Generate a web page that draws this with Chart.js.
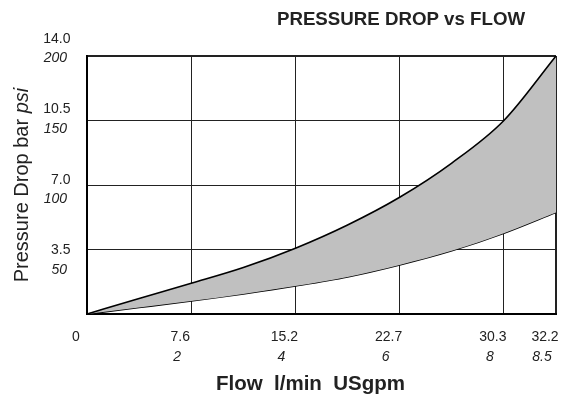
<!DOCTYPE html>
<html>
<head>
<meta charset="utf-8">
<script src="https://cdn.jsdelivr.net/npm/chart.js@4.4.1/dist/chart.umd.min.js"></script>
<style>
html, body { margin: 0; padding: 0; background: #fff; }
</style>
</head>
<body>
<canvas id="pdChart" width="576" height="400"></canvas>
<script>
// flow in US gpm, pressure drop in psi
const flowGpm = [0, 1, 2, 3, 4, 5, 6, 7, 8, 8.5];
const dropHigh = [0, 12, 23.8, 36, 51, 69, 90.5, 117, 150, 200];
const dropLow = [0, 5, 10.1, 15.6, 21.7, 28.7, 38, 49, 62.6, 78.7];

const xTickGpm = [0, 2, 4, 6, 8, 8.5];
const xTickLminLabels = ['0', '7.6', '15.2', '22.7', '30.3', '32.2'];
const xTickGpmLabels = ['', '2', '4', '6', '8', '8.5'];
const yTickPsi = [0, 50, 100, 150, 200];
const yTickPsiLabels = ['', '50', '100', '150', '200'];
const yTickBarLabels = ['', '3.5', '7.0', '10.5', '14.0'];

const FONT = '"Liberation Sans", Arial, Helvetica, sans-serif';
const INK = '#222';

// the original drawing stretches the last half gpm over a full grid cell
function axisPos(g) {
    return g <= 8 ? g : 8 + (g - 8) * 2;
}

function setTicks(scale) {
    scale.ticks = xTickGpm.map(g => ({ value: axisPos(g) }));
}

function noEdgePadding(scale) {
    scale.paddingLeft = 0;
    scale.paddingRight = 0;
}

const extraText = {
    id: 'extraText',
    afterDraw(chart) {
        const { ctx, chartArea, scales: { y } } = chart;
        const midX = (chartArea.left + chartArea.right) / 2;
        ctx.save();
        ctx.fillStyle = INK;
        ctx.textBaseline = 'alphabetic';

        // title
        ctx.textAlign = 'center';
        ctx.font = 'bold 18.7px ' + FONT;
        ctx.fillText('PRESSURE DROP vs FLOW', chartArea.right - 155, 24.5);

        // x title
        ctx.font = 'bold 20.5px ' + FONT;
        ctx.fillText('Flow  l/min  USgpm', midX - 11, 390);

        // y tick labels: bar above, psi (italic) below
        ctx.textAlign = 'right';
        yTickPsi.forEach((v, i) => {
            if (!yTickPsiLabels[i]) return;
            const steps = (200 - v) / 50;
            const py = y.getPixelForValue(v) + 1 + steps * 6;
            ctx.font = 'italic 14px ' + FONT;
            ctx.fillText(yTickPsiLabels[i], 67, py + 5);
            ctx.font = '14px ' + FONT;
            ctx.fillText(yTickBarLabels[i], 70.5, py - 19.5 + 5);
        });

        // y title with italic unit
        const midY = (chartArea.top + chartArea.bottom) / 2;
        ctx.translate(28.3, midY);
        ctx.rotate(-Math.PI / 2);
        ctx.textAlign = 'left';
        const partA = 'Pressure Drop bar ';
        const partB = 'psi';
        ctx.font = '20px ' + FONT;
        const wA = ctx.measureText(partA).width;
        ctx.font = 'italic 20px ' + FONT;
        const wB = ctx.measureText(partB).width;
        const x0 = -(wA + wB) / 2;
        ctx.font = '20px ' + FONT;
        ctx.fillText(partA, x0, 0);
        ctx.font = 'italic 20px ' + FONT;
        ctx.fillText(partB, x0 + wA, 0);
        ctx.restore();
    }
};

const ctx = document.getElementById('pdChart').getContext('2d');
new Chart(ctx, {
    type: 'line',
    data: {
        datasets: [{
            data: flowGpm.map((g, i) => ({ x: axisPos(g), y: dropHigh[i] })),
            borderColor: '#000',
            borderWidth: 1.6,
            pointRadius: 0,
            cubicInterpolationMode: 'monotone',
            fill: '+1',
            backgroundColor: '#c0c0c0'
        }, {
            data: flowGpm.map((g, i) => ({ x: axisPos(g), y: dropLow[i] })),
            borderColor: '#000',
            borderWidth: 1.6,
            pointRadius: 0,
            cubicInterpolationMode: 'monotone',
            fill: false
        }]
    },
    options: {
        responsive: false,
        animation: false,
        devicePixelRatio: 1,
        layout: { padding: { top: 56, right: 20, left: 0, bottom: 0 } },
        plugins: {
            legend: { display: false },
            tooltip: { enabled: false }
        },
        scales: {
            x: {
                type: 'linear',
                position: 'bottom',
                weight: 0,
                z: 1,
                min: 0,
                max: axisPos(8.5),
                afterBuildTicks: setTicks,
                afterFit: s => { s.height = 32; noEdgePadding(s); },
                grid: {
                    color: INK,
                    lineWidth: c => (c.tick && c.tick.value === axisPos(8.5)) ? 2 : 1,
                    drawTicks: false
                },
                border: { color: '#000', width: 2 },
                ticks: {
                    autoSkip: false,
                    maxRotation: 0,
                    padding: 15,
                    labelOffset: -11,
                    color: INK,
                    font: { family: FONT, size: 14 },
                    callback: (v, i) => xTickLminLabels[i]
                }
            },
            x2: {
                type: 'linear',
                position: 'bottom',
                weight: 1,
                min: 0,
                max: axisPos(8.5),
                afterBuildTicks: setTicks,
                afterFit: s => { s.height = 54; noEdgePadding(s); },
                grid: { display: false, drawTicks: false },
                border: { display: false },
                ticks: {
                    autoSkip: false,
                    maxRotation: 0,
                    padding: 3,
                    labelOffset: -14,
                    color: INK,
                    font: { family: FONT, size: 14, style: 'italic' },
                    callback: (v, i) => xTickGpmLabels[i]
                }
            },
            y: {
                z: 1,
                min: 0,
                max: 200,
                afterBuildTicks: s => { s.ticks = yTickPsi.map(v => ({ value: v })); },
                afterFit: s => { s.width = 87; },
                grid: {
                    color: INK,
                    lineWidth: c => (c.tick && c.tick.value === 200) ? 2 : 1,
                    drawTicks: false
                },
                border: { color: '#000', width: 2 },
                ticks: { display: false }
            }
        }
    },
    plugins: [extraText]
});
</script>
</body>
</html>
